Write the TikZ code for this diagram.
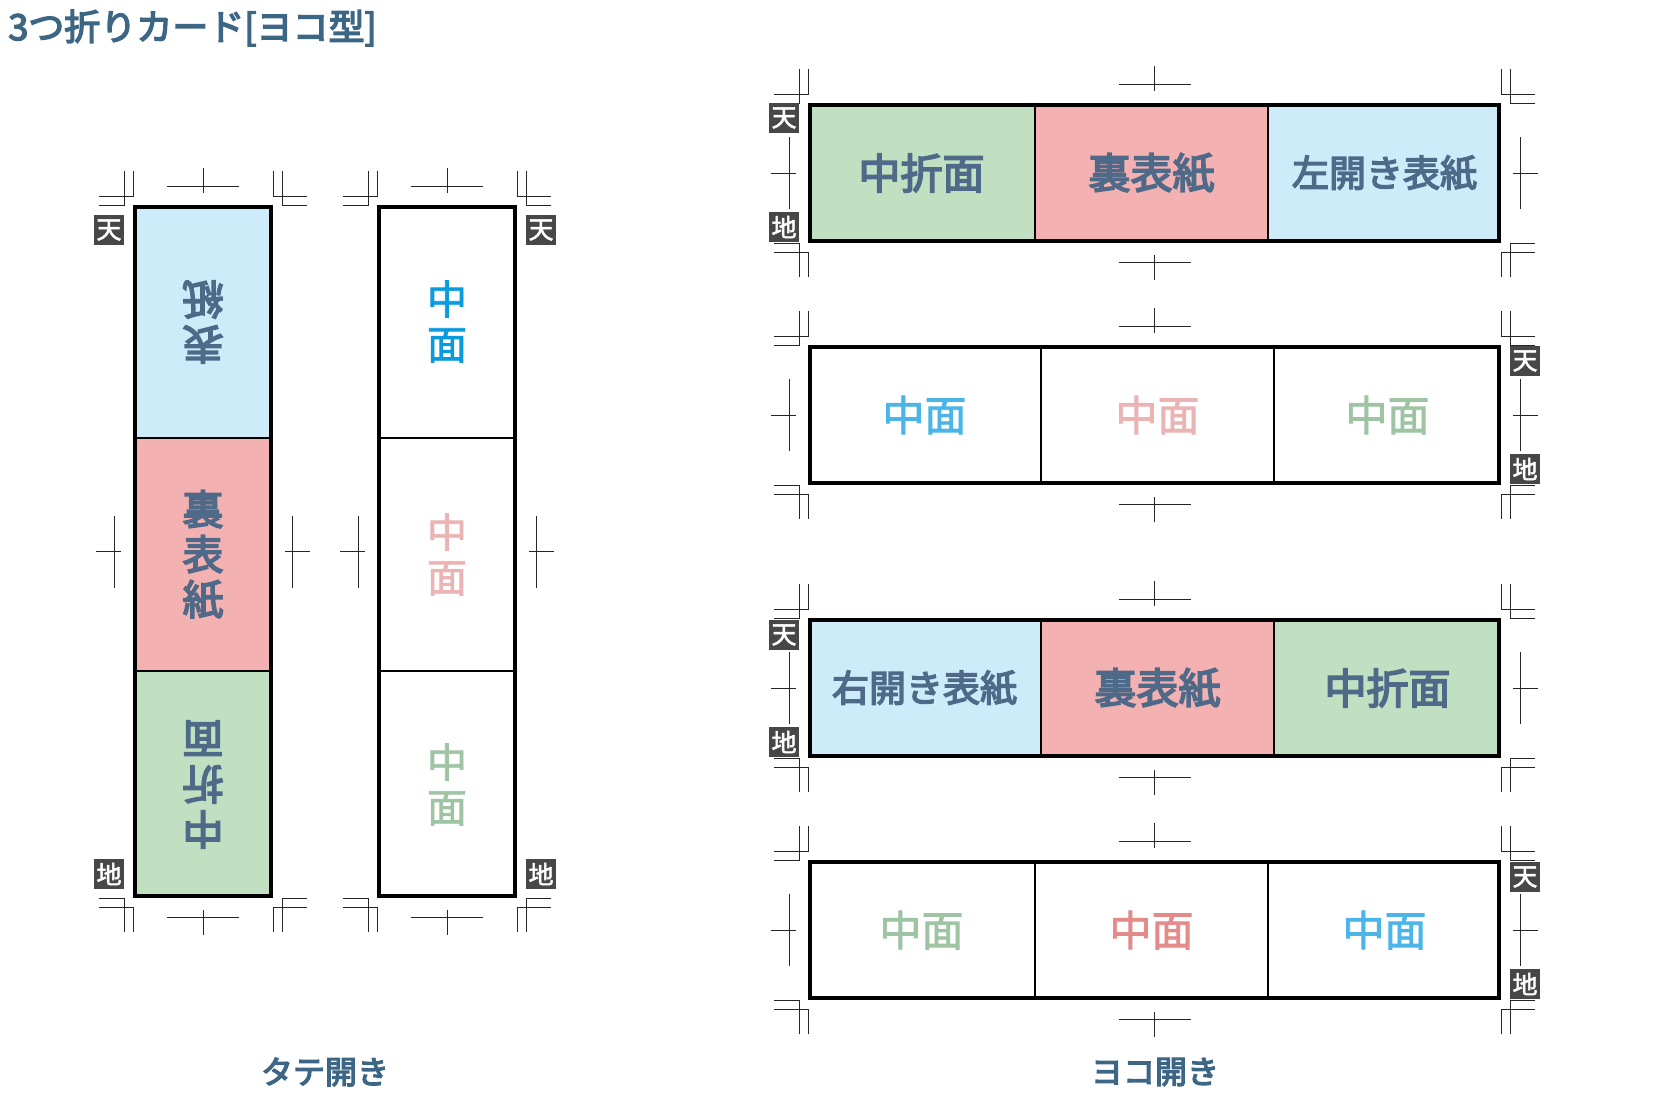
\documentclass[tikz,border=0pt]{standalone}
\usepackage{fontspec}
\setmainfont{Noto Sans CJK JP}
\newfontfamily\medjp{Noto Sans CJK JP}[FakeBold=4]
\newfontfamily\lightjp{Noto Sans CJK JP}[FakeBold=2]
\definecolor{ocean}{HTML}{3D6584}
\definecolor{slate}{HTML}{4F6A88}
\definecolor{foldgreen}{HTML}{C1E0C2}
\definecolor{backpink}{HTML}{F4B1B1}
\definecolor{coverblue}{HTML}{CEEBF9}
\definecolor{inkblue}{HTML}{4BB5E8}
\definecolor{inkpink}{HTML}{EBB4B4}
\definecolor{inkgreen}{HTML}{9EC4A4}
\definecolor{deeppink}{HTML}{E38B8B}
\definecolor{vivblue}{HTML}{0A9BDF}
\definecolor{tenchigray}{HTML}{474747}
% trim marks round a card: #1,#2 top left, #3,#4 bottom right
\newcommand{\trimmarks}[4]{%
  \foreach \cx/\cy/\sx/\sy in {#1/#2/-1/-1,#3/#2/1/-1,#1/#4/-1/1,#3/#4/1/1}{
    \begin{scope}[shift={(\cx,\cy)},xscale=\sx,yscale=\sy]
      \draw[tombo] (34,0) -- (9,0) -- (9,34);
      \draw[tombo] (34,9) -- (0,9) -- (0,34);
    \end{scope}
  }
  \foreach \cy/\sy in {#2/-1,#4/1}{
    \begin{scope}[shift={({(#1+#3)/2},\cy)},yscale=\sy]
      \draw[tombo] (-36,19) -- (36,19) (0,12) -- (0,37);
    \end{scope}
  }
  \foreach \cx/\sx in {#1/-1,#3/1}{
    \begin{scope}[shift={(\cx,{(#2+#4)/2})},xscale=\sx]
      \draw[tombo] (19,-36) -- (19,36) (12,0) -- (37,0);
    \end{scope}
  }
}
\begin{document}
\begin{tikzpicture}[x=0.5pt,y=-0.5pt,
tombo/.style={line width=0.5pt,draw=black!85},
divider/.style={line width=1pt},
cardline/.style={line width=2pt},
tenchi/.style={fill=tenchigray,text=white,minimum size=15pt,inner sep=0pt,font=\lightjp\fontsize{12.5pt}{12.5pt}\selectfont},
panellabel/.style={text=slate,font=\medjp\fontsize{21pt}{25pt}\selectfont},
coverlabel/.style={text=slate,font=\medjp\fontsize{18.5pt}{22pt}\selectfont},
stacklabel/.style={text=slate,align=center,font=\medjp\fontsize{20.5pt}{22.5pt}\selectfont},
innerlabel/.style={font=\lightjp\fontsize{21pt}{25pt}\selectfont},
innerstack/.style={align=center,font=\lightjp\fontsize{20pt}{22.5pt}\selectfont},
caption/.style={text=ocean,font=\medjp\fontsize{16pt}{18pt}\selectfont}]
\useasboundingbox (0,0) rectangle (1680,1098);
\node[anchor=west,inner sep=0pt,text=ocean,font=\medjp\fontsize{18pt}{20pt}\selectfont] (title) at (8,28) {3つ折りカード[ヨコ型]};

% marks first, labels later on top
\trimmarks{133}{205}{273}{898}
\trimmarks{377}{205}{517}{898}
\trimmarks{808}{103}{1501}{243}
\trimmarks{808}{345}{1501}{485}
\trimmarks{808}{618}{1501}{758}
\trimmarks{808}{860}{1501}{1000}

% tate: outside
\fill[coverblue] (133,205) rectangle node[stacklabel,rotate=180] (t1a) {表\\紙} (273,438);
\fill[backpink] (133,438) rectangle node[stacklabel] (t1b) {裏\\表\\紙} (273,671);
\fill[foldgreen] (133,671) rectangle node[stacklabel,rotate=180] (t1c) {中\\折\\面} (273,898);
\draw[divider] (133,438) -- (273,438) (133,671) -- (273,671);
\draw[cardline] (135,207) rectangle (271,896);
% tate: inside
\node[innerstack,text=vivblue] (t2a) at (447,321.5) {中\\面};
\node[innerstack,text=inkpink] (t2b) at (447,554.5) {中\\面};
\node[innerstack,text=inkgreen] (t2c) at (447,784.5) {中\\面};
\draw[divider] (377,438) -- (517,438) (377,671) -- (517,671);
\draw[cardline] (379,207) rectangle (515,896);

% yoko: left opening, outside
\fill[foldgreen] (808,103) rectangle node[panellabel] (y1a) {中折面} (1035,243);
\fill[backpink] (1035,103) rectangle node[panellabel] (y1b) {裏表紙} (1268,243);
\fill[coverblue] (1268,103) rectangle node[coverlabel] (y1c) {左開き表紙} (1501,243);
\draw[divider] (1035,103) -- (1035,243) (1268,103) -- (1268,243);
\draw[cardline] (810,105) rectangle (1499,241);
% yoko: left opening, inside
\node[innerlabel,text=inkblue] (y2a) at (924.5,415) {中面};
\node[innerlabel,text=inkpink] (y2b) at (1157.5,415) {中面};
\node[innerlabel,text=inkgreen] (y2c) at (1387.5,415) {中面};
\draw[divider] (1041,345) -- (1041,485) (1274,345) -- (1274,485);
\draw[cardline] (810,347) rectangle (1499,483);

% yoko: right opening, outside
\fill[coverblue] (808,618) rectangle node[coverlabel] (y3a) {右開き表紙} (1041,758);
\fill[backpink] (1041,618) rectangle node[panellabel] (y3b) {裏表紙} (1274,758);
\fill[foldgreen] (1274,618) rectangle node[panellabel] (y3c) {中折面} (1501,758);
\draw[divider] (1041,618) -- (1041,758) (1274,618) -- (1274,758);
\draw[cardline] (810,620) rectangle (1499,756);
% yoko: right opening, inside
\node[innerlabel,text=inkgreen] (y4a) at (921.5,930) {中面};
\node[innerlabel,text=deeppink] (y4b) at (1151.5,930) {中面};
\node[innerlabel,text=inkblue] (y4c) at (1384.5,930) {中面};
\draw[divider] (1035,860) -- (1035,1000) (1268,860) -- (1268,1000);
\draw[cardline] (810,862) rectangle (1499,998);

% ten / chi
\node[tenchi] (t1ten) at (109,230) {天};
\node[tenchi] (t1chi) at (109,874) {地};
\node[tenchi] (t2ten) at (541,230) {天};
\node[tenchi] (t2chi) at (541,874) {地};
\node[tenchi] (y1ten) at (784,118) {天};
\node[tenchi] (y1chi) at (784,227) {地};
\node[tenchi] (y2ten) at (1525,361) {天};
\node[tenchi] (y2chi) at (1525,469) {地};
\node[tenchi] (y3ten) at (784,635) {天};
\node[tenchi] (y3chi) at (784,742) {地};
\node[tenchi] (y4ten) at (1525,877) {天};
\node[tenchi] (y4chi) at (1525,984) {地};

\node[caption] (tate) at (325,1072) {タテ開き};
\node[caption] (yoko) at (1155,1072) {ヨコ開き};
\end{tikzpicture}
\end{document}
